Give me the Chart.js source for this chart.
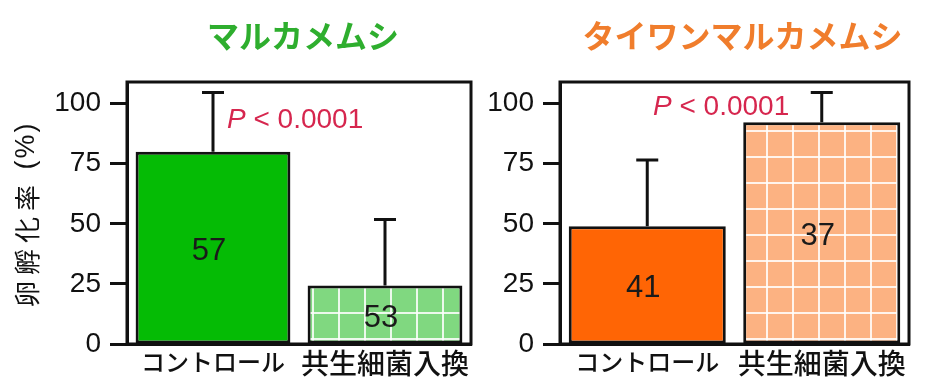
<!DOCTYPE html>
<html>
<head>
<meta charset="utf-8">
<script src="https://cdn.jsdelivr.net/npm/chart.js@4.4.1/dist/chart.umd.min.js"></script>
<style>
  html, body { margin: 0; padding: 0; background: #fff; }
  #wrap { position: relative; width: 931px; height: 379px; overflow: hidden; }
  canvas { position: absolute; top: 0; }
</style>
</head>
<body>
<div id="wrap">
  <canvas id="left" width="480" height="379" style="left:0"></canvas>
  <canvas id="right" width="451" height="379" style="left:480px"></canvas>
</div>
<script>
// data
const categories = ['コントロール', '共生細菌入換'];
const yTicks = [0, 25, 50, 75, 100];
const maruMeans = [80.0, 24.3];
const maruSD = [24.6, 27.5];
const maruN = [57, 53];
const taiwanMeans = [49.0, 92.3];
const taiwanSD = [27.5, 12.3];
const taiwanN = [41, 37];
const titles = ['マルカメムシ', 'タイワンマルカメムシ'];
const yTitle = ['卵孵化率', ' (%)'];
const pLabel = ['P', ' < 0.0001'];

const INK = '#111';
const NUM_FONT = '"Liberation Sans", Arial, sans-serif';
const JP_FONT = '"Noto Sans CJK JP", sans-serif';

function gridPattern(ctx, base) {
  const c = document.createElement('canvas');
  c.width = 26; c.height = 26;
  const g = c.getContext('2d');
  g.fillStyle = base;
  g.fillRect(0, 0, 26, 26);
  g.fillStyle = 'rgba(255,255,255,0.85)';
  g.fillRect(0, 0, 2, 26);
  g.fillRect(0, 0, 26, 2);
  return ctx.createPattern(c, 'repeat');
}

// error bars, n labels, frame, P value, titles
const extras = {
  id: 'extras',
  afterDatasetsDraw(chart, args, o) {
    const { ctx, chartArea: a, scales: { y } } = chart;
    const meta = chart.getDatasetMeta(0);
    ctx.save();
    ctx.strokeStyle = INK;
    ctx.lineWidth = 3;
    meta.data.forEach((bar, i) => {
      const top = y.getPixelForValue(o.means[i] + o.sd[i]);
      ctx.beginPath();
      ctx.moveTo(bar.x, bar.y);
      ctx.lineTo(bar.x, top);
      ctx.moveTo(bar.x - 11, top);
      ctx.lineTo(bar.x + 11, top);
      ctx.stroke();
      ctx.fillStyle = '#1a1a1a';
      ctx.font = '31px ' + NUM_FONT;
      ctx.textAlign = 'center';
      ctx.textBaseline = 'middle';
      ctx.fillText(String(o.n[i]), bar.x - 4, (bar.y + bar.base) / 2 + 4);
    });

    // box round the plot
    ctx.strokeRect(a.left, a.top, a.right - a.left, a.bottom - a.top);

    // P value
    ctx.fillStyle = '#d6264e';
    ctx.textAlign = 'left';
    ctx.textBaseline = 'middle';
    let px = a.left + o.pDx;
    const py = a.top + o.pDy;
    ctx.font = 'italic 28px ' + NUM_FONT;
    ctx.fillText(pLabel[0], px, py);
    px += ctx.measureText(pLabel[0]).width;
    ctx.font = '28px ' + NUM_FONT;
    ctx.fillText(pLabel[1], px, py);

    // panel title
    ctx.fillStyle = o.titleColor;
    ctx.textAlign = 'center';
    ctx.font = 'bold 32px ' + JP_FONT;
    ctx.fillText(o.title, (a.left + a.right) / 2 + o.titleDx, 36);

    // y axis title, read bottom to top
    if (o.yTitle) {
      ctx.translate(27, 0);
      ctx.rotate(-Math.PI / 2);
      ctx.fillStyle = INK;
      ctx.textAlign = 'left';
      let tx = -307;
      ctx.font = '26px ' + JP_FONT;
      ctx.letterSpacing = '6px';
      ctx.fillText(o.yTitle[0], tx, 0);
      tx += ctx.measureText(o.yTitle[0]).width;
      ctx.font = '27px ' + NUM_FONT;
      ctx.letterSpacing = '2px';
      ctx.fillText(o.yTitle[1], tx, 0);
    }
    ctx.restore();
  }
};

function makeChart(id, means, sd, n, solid, light, cfg) {
  const ctx = document.getElementById(id).getContext('2d');
  return new Chart(ctx, {
    type: 'bar',
    data: {
      labels: categories,
      datasets: [{
        data: means,
        backgroundColor: [solid, gridPattern(ctx, light)],
        borderColor: INK,
        borderWidth: 3,
        borderSkipped: false,
        barPercentage: 0.9,
        categoryPercentage: 1.0
      }]
    },
    options: {
      responsive: false,
      animation: false,
      layout: { padding: { left: 0, right: cfg.rightPad, top: 82, bottom: 0 } },
      plugins: {
        legend: { display: false },
        tooltip: { enabled: false },
        extras: {
          means, sd, n,
          title: cfg.title, titleColor: cfg.titleColor, titleDx: cfg.titleDx,
          pDx: cfg.pDx, pDy: cfg.pDy, yTitle: cfg.yTitle
        }
      },
      scales: {
        x: {
          afterFit: s => { s.height = 35; },
          grid: { display: false, drawTicks: false },
          border: { display: true, color: INK, width: 3 },
          ticks: {
            color: INK,
            padding: 3,
            maxRotation: 0,
            autoSkip: false,
            font: c => ({ family: JP_FONT, size: c.index === 0 ? 24 : 28, weight: 500 })
          }
        },
        y: {
          min: 0,
          max: 109,
          afterFit: s => { s.width = cfg.yWidth; },
          afterBuildTicks: s => { s.ticks = yTicks.map(v => ({ value: v })); },
          ticks: { padding: 9, color: INK, font: { family: NUM_FONT, size: 28 } },
          grid: {
            display: true, drawOnChartArea: false, drawTicks: true,
            tickLength: 17, tickColor: INK, tickWidth: 3, color: INK
          },
          border: { display: true, color: INK, width: 3 }
        }
      }
    },
    plugins: [extras]
  });
}

makeChart('left', maruMeans, maruSD, maruN, '#05bb05', '#80d880', {
  rightPad: 9, yWidth: 127, title: titles[0], titleColor: '#2eae2e', titleDx: 4,
  pDx: 100, pDy: 38, yTitle: yTitle
});
makeChart('right', taiwanMeans, taiwanSD, taiwanN, '#ff6505', '#fcb282', {
  rightPad: 22, yWidth: 80, title: titles[1], titleColor: '#f07d2c', titleDx: 8,
  pDx: 93, pDy: 25, yTitle: null
});
</script>
</body>
</html>
